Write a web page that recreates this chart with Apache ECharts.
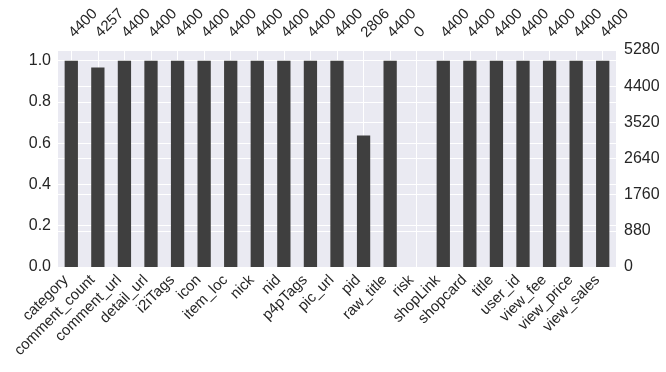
<!DOCTYPE html>
<html>
<head>
<meta charset="utf-8">
<script src="https://cdn.jsdelivr.net/npm/echarts@6/dist/echarts.min.js"></script>
<style>html,body{margin:0;padding:0;background:#fff}#c{width:666px;height:372px}</style>
</head>
<body>
<div id="c"></div>
<script>
const columns = ['category','comment_count','comment_url','detail_url','i2iTags','icon','item_loc','nick','nid','p4pTags','pic_url','pid','raw_title','risk','shopLink','shopcard','title','user_id','view_fee','view_price','view_sales'];
const counts = [4400,4257,4400,4400,4400,4400,4400,4400,4400,4400,4400,2806,4400,0,4400,4400,4400,4400,4400,4400,4400];
const totalRows = 4400;
const rightTicks = [0,880,1760,2640,3520,4400,5280];
const leftTicks = [0.0,0.2,0.4,0.6,0.8,1.0];

const ratios = counts.map(c => c / totalRows);
const halfSteps = Array.from({length: columns.length * 2 + 1}, (_, i) => String(i));
const FONT = "'Liberation Sans', Arial, sans-serif";
const chart = echarts.init(document.getElementById('c'), null, {renderer:'canvas'});
chart.setOption({
  animation: false,
  backgroundColor: '#ffffff',
  grid: {left: 58, right: 50, top: 50, bottom: 105, containLabel: false, show: true, backgroundColor: '#EAEAF2', borderWidth: 0},
  xAxis: [
    {type:'category', data: columns, position:'bottom', boundaryGap: true,
     axisLine:{show:false}, axisTick:{show:false}, splitLine:{show:false},
     axisLabel:{rotate:45, interval:0, fontFamily:FONT, fontSize:15, color:'#262626', margin:16,
       align:'right', verticalAlign:'bottom'}},
    {type:'category', data: counts.map(String), position:'top', boundaryGap: true,
     axisLine:{show:false}, axisTick:{show:false}, splitLine:{show:false},
     axisLabel:{rotate:45, interval:0, fontFamily:FONT, fontSize:15, color:'#262626', margin:15,
       align:'left', verticalAlign:'middle'}},
    {type:'category', data: halfSteps, position:'bottom', boundaryGap: false, offset: 0,
     axisLine:{show:false}, axisTick:{show:false}, axisLabel:{show:false},
     splitLine:{show:true, interval: (i) => i % 2 === 1, lineStyle:{color:'#ffffff', width:1}}}
  ],
  yAxis: [
    {type:'value', min:0, max:1.052, interval:0.2, position:'left',
     axisLine:{show:false}, axisTick:{show:false},
     splitLine:{show:true, lineStyle:{color:'#ffffff', width:1}},
     axisLabel:{fontFamily:FONT, fontSize:16, color:'#262626', margin:7, showMaxLabel:false,
       formatter: v => v.toFixed(1)}},
    {type:'value', min:0, max:5280, interval:880, position:'right',
     axisLine:{show:false}, axisTick:{show:false},
     splitLine:{show:true, lineStyle:{color:'#ffffff', width:1}},
     axisLabel:{fontFamily:FONT, fontSize:16, color:'#262626', margin:8, formatter: v => String(v)}}
  ],
  series: [
    {type:'bar', xAxisIndex:0, yAxisIndex:0, data: ratios, barWidth:'50%',
     itemStyle:{color:'#3f3f3f'}, z:3}
  ]
});
</script>
</body>
</html>
